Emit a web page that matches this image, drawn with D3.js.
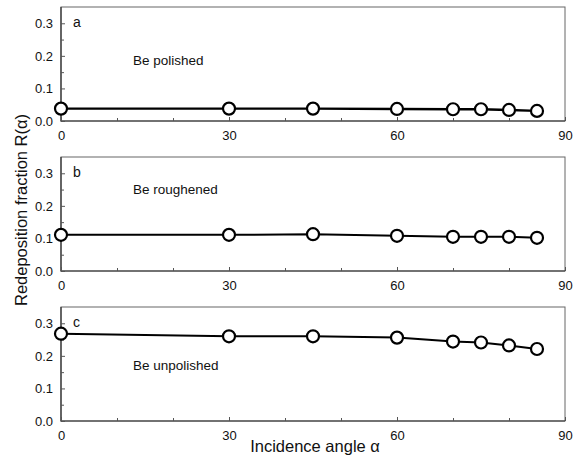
<!DOCTYPE html>
<html>
<head>
<meta charset="utf-8">
<script src="https://cdn.jsdelivr.net/npm/d3@7"></script>
<style>
  body { margin: 0; background: #fff; }
  text { font-family: "Liberation Sans", Arial, sans-serif; fill: #111; }
</style>
</head>
<body>
<svg id="chart"></svg>
<script>
// incidence angles (deg)
const angles = [0, 30, 45, 60, 70, 75, 80, 85];
// redeposition fraction per surface
const polished   = [0.038, 0.038, 0.038, 0.037, 0.036, 0.036, 0.034, 0.031];
const roughened  = [0.111, 0.111, 0.113, 0.108, 0.105, 0.105, 0.105, 0.102];
const unpolished = [0.268, 0.260, 0.260, 0.256, 0.244, 0.241, 0.232, 0.221];
const panelLetters = ["a", "b", "c"];
const panelNames = ["Be polished", "Be roughened", "Be unpolished"];
const xTicks = [0, 30, 60, 90];
const yTicks = [0.0, 0.1, 0.2, 0.3];

const W = 579, H = 458;
const svg = d3.select("#chart").attr("width", W).attr("height", H);

const x = d3.scaleLinear().domain([0, 90]).range([61, 565]);
const panelTops = [7, 157, 307], panelH = 114;
const series = [polished, roughened, unpolished];

series.forEach((vals, p) => {
  const top = panelTops[p];
  const y = d3.scaleLinear().domain([0, 0.35]).range([top + panelH, top]);
  const g = svg.append("g");

  // frame
  g.append("rect")
    .attr("x", x(0)).attr("y", top)
    .attr("width", x(90) - x(0)).attr("height", panelH)
    .attr("fill", "none").attr("stroke", "#666").attr("stroke-width", 1);
  g.append("path")
    .attr("d", `M${x(0)},${top}V${top + panelH}H${x(90)}`)
    .attr("fill", "none").attr("stroke", "#333").attr("stroke-width", 1.2);

  // bottom axis, ticks pointing inward
  const xa = g.append("g").attr("transform", `translate(0,${top + panelH})`)
    .call(d3.axisBottom(x).tickValues(xTicks).tickSizeInner(-4).tickSizeOuter(0).tickPadding(10).tickFormat(d3.format("d")));
  const xm = g.append("g").attr("transform", `translate(0,${top + panelH})`)
    .call(d3.axisBottom(x).tickValues([10, 20, 40, 50, 70, 80]).tickSizeInner(-3).tickSizeOuter(0).tickFormat(""));

  // left axis
  const ya = g.append("g").attr("transform", `translate(${x(0)},0)`)
    .call(d3.axisLeft(y).tickValues(yTicks).tickSizeInner(-4).tickSizeOuter(0).tickPadding(8).tickFormat(d3.format(".1f")));
  const ym = g.append("g").attr("transform", `translate(${x(0)},0)`)
    .call(d3.axisLeft(y).tickValues([0.05, 0.15, 0.25]).tickSizeInner(-3).tickSizeOuter(0).tickFormat(""));

  [xa, xm, ya, ym].forEach(a => {
    a.select(".domain").remove();
    a.selectAll("line").attr("stroke", "#555");
    a.selectAll("text").attr("font-size", 13).attr("fill", "#111")
      .style("font-family", "'Liberation Sans', Arial, sans-serif");
  });

  // data line
  const line = d3.line().x((d, i) => x(angles[i])).y(d => y(d));
  g.append("path").datum(vals)
    .attr("d", line)
    .attr("fill", "none").attr("stroke", "#000").attr("stroke-width", p === 0 ? 2.4 : 2);

  g.selectAll("circle").data(vals).join("circle")
    .attr("cx", (d, i) => x(angles[i]))
    .attr("cy", d => y(d))
    .attr("r", 6)
    .attr("fill", "#fff").attr("stroke", "#000").attr("stroke-width", 2.2);

  g.append("text").attr("x", 73).attr("y", top + 20)
    .attr("font-size", 14).text(panelLetters[p]);

  const labelY = [65, 194, 370][p];
  g.append("text").attr("x", 133).attr("y", labelY)
    .attr("font-size", 13.5).text(panelNames[p]);
});

svg.append("text")
  .attr("x", 315).attr("y", 452)
  .attr("text-anchor", "middle").attr("font-size", 16.5)
  .text("Incidence angle α");

svg.append("text")
  .attr("transform", "translate(27,210) rotate(-90)")
  .attr("text-anchor", "middle").attr("font-size", 16.5)
  .text("Redeposition fraction R(α)");
</script>
</body>
</html>
